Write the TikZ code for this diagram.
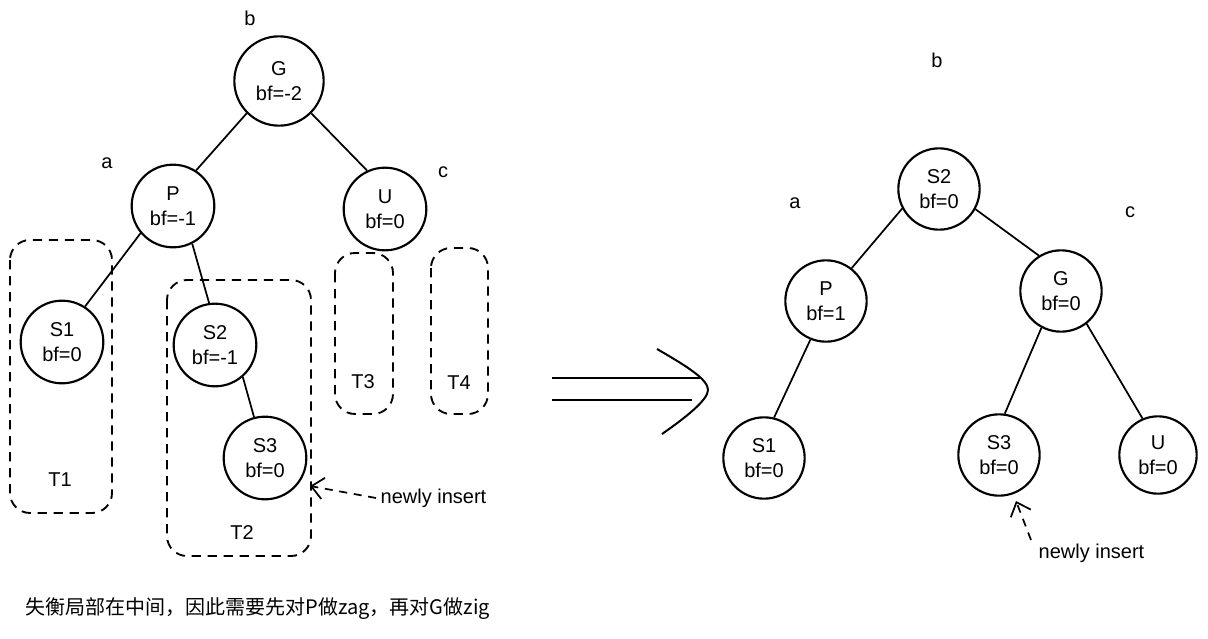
\documentclass[tikz,border=0pt]{standalone}
\usepackage{fontspec}
\setmainfont{Liberation Sans}
\newfontfamily\cjk{Noto Sans CJK SC}
\usetikzlibrary{arrows.meta}

\begin{document}
\begin{tikzpicture}[x=0.75pt,y=-0.75pt,
    font=\fontsize{15}{19}\selectfont,
    vtx/.style={circle,draw,line width=1.6pt,minimum size=62pt,inner sep=0pt,align=center},
    subtree/.style={draw,line width=1.4pt,dash pattern=on 7pt off 5pt,rounded corners=15pt},
    edge/.style={line width=1.3pt},
    insarrow/.style={edge,dash pattern=on 6pt off 5pt,-{Straight Barb[length=9pt,width=16pt]}}]
    \useasboundingbox (0,0) rectangle (1208,639);
    % before rotation
    \node[vtx,minimum size=67pt] (G) at (279,81) {G\\bf=-2};
    \node[vtx] (P) at (173,206) {P\\bf=-1};
    \node[vtx] (U) at (385,209) {U\\bf=0};
    \node[vtx] (S1) at (62,342) {S1\\bf=0};
    \node[vtx] (S2) at (215,345) {S2\\bf=-1};
    \node[vtx] (S3) at (265,458) {S3\\bf=0};
    \node (lb) at (250,18) {b};
    \node (la) at (107,163) {a};
    \node (lc) at (443,172) {c};
    \draw[edge] (G.-135) -- (P.57);
    \draw[edge] (G.-45) -- (U.115);
    \draw[edge] (P.-140) -- (S1.57);
    \draw[edge] (P.-63) -- (S2.98);
    \draw[edge] (S2.-49) -- (S3.105);
    \draw[subtree] (10,240) rectangle (112,513);
    \draw[subtree] (167,280) rectangle (311,556);
    \draw[subtree] (335,253) rectangle (393,414);
    \draw[subtree] (431,248) rectangle (488,414);
    \node (T1) at (60,480) {T1};
    \node (T2) at (242,533) {T2};
    \node (T3) at (363,382) {T3};
    \node (T4) at (459,383) {T4};
    \node[anchor=west] (ins1) at (376,498) {newly insert};
    \coordinate (tip1) at (310,486);
    \draw[insarrow] (ins1.west) -- (tip1);
    % big arrow
    \draw[line width=1.3pt] (552,378) -- (700,378);
    \draw[line width=1.3pt] (552,400) -- (692,400);
    \draw[line width=1.5pt] (657,349) .. controls (690,368) and (708,380) .. (708,390)
        .. controls (708,400) and (685,418) .. (662,434);
    % after rotation
    \node[vtx,minimum size=61pt] (S2r) at (939,189) {S2\\bf=0};
    \node[vtx,minimum size=61pt] (Pr) at (826,301) {P\\bf=1};
    \node[vtx,minimum size=61pt] (Gr) at (1061,291) {G\\bf=0};
    \node[vtx,minimum size=61pt] (S1r) at (764,458) {S1\\bf=0};
    \node[vtx,minimum size=61pt] (S3r) at (999,455) {S3\\bf=0};
    \node[vtx,minimum size=58pt] (Ur) at (1158,455) {U\\bf=0};
    \node (lbr) at (937,60) {b};
    \node (lar) at (795,203) {a};
    \node (lcr) at (1130,212) {c};
    \draw[edge] (S2r.208) -- (Pr.52);
    \draw[edge] (S2r.-29) -- (Gr.122);
    \draw[edge] (Pr.-112) -- (S1r.76);
    \draw[edge] (Gr.-118) -- (S3r.82);
    \draw[edge] (Gr.-52) -- (Ur.113);
    \node[anchor=west] (ins2) at (1034,553) {newly insert};
    \coordinate (tip2) at (1016,501);
    \draw[insarrow] (1031,540) -- (tip2);
    % caption
    \node[anchor=west,font=\cjk\fontsize{15}{17}\selectfont] (cap) at (21,609)
        {失衡局部在中间，因此需要先对P做zag，再对G做zig};
\end{tikzpicture}
\end{document}
